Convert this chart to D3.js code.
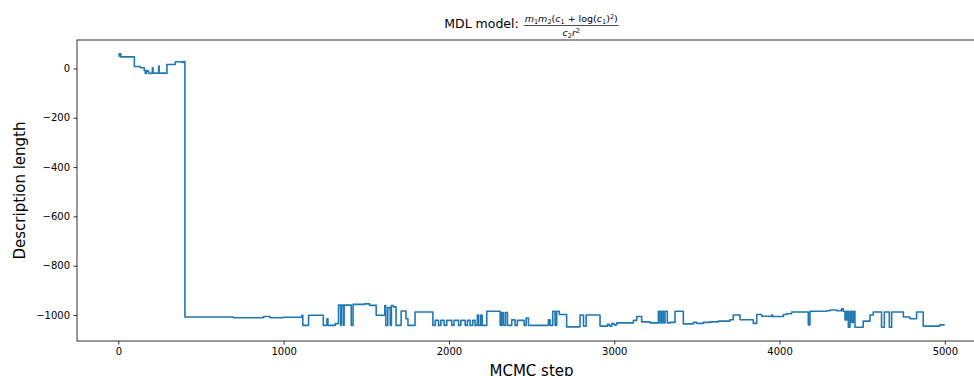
<!DOCTYPE html>
<html>
<head>
<meta charset="utf-8">
<script src="https://cdn.jsdelivr.net/npm/d3@7"></script>
<style>
  html, body { margin: 0; padding: 0; background: #fff; }
  svg { display: block; font-family: "DejaVu Sans", sans-serif; }
</style>
</head>
<body>
<svg id="chart" width="974" height="376"></svg>
<script>
// MCMC trace of the description length: change points of a step series.
const steps = [
  0, 5, 15, 97, 133, 157, 163, 170, 178, 185, 200, 206, 210, 244, 247, 294, 345, 385, 392, 403,
  697, 878, 918, 996, 1110, 1116, 1151, 1240, 1262, 1268, 1312, 1332, 1345, 1350, 1362, 1366,
  1409, 1420, 1490, 1520, 1560, 1612, 1618, 1630, 1645, 1652, 1664, 1680, 1711, 1740, 1752, 1795,
  1903, 1917, 1937, 1951, 1971, 1987, 2017, 2031, 2058, 2072, 2098, 2112, 2128, 2144, 2158, 2172,
  2180, 2193, 2201, 2229, 2310, 2320, 2330, 2342, 2354, 2380, 2400, 2414, 2455, 2467, 2481, 2602,
  2612, 2628, 2642, 2652, 2668, 2712,
  2793, 2814, 2830, 2914, 2959, 2971, 2985, 2999, 3015, 3116, 3136, 3166, 3217, 3267, 3277, 3287,
  3297, 3307, 3321, 3337, 3368, 3418, 3479, 3499, 3539, 3579, 3630,
  3700, 3720, 3761, 3841, 3862, 3892, 3942, 3952, 3958, 4023, 4043, 4073, 4174, 4184, 4285, 4305,
  4345, 4375, 4385, 4396, 4406, 4416, 4426, 4436, 4446, 4456, 4506, 4547, 4567, 4617, 4634, 4664,
  4678, 4749, 4789, 4829, 4869, 4970, 4999
];
const lengths = [
  50, 60, 47, 8, 3, -8, -20, -8, -12, -20, -19, 3, -19, 10, -19, 16, 27, 24, 28, -1008,
  -1011, -1006, -1011, -1009, -1001, -1042, -1001, -1042, -1015, -1042, -1035, -960, -1042, -960, -1042, -960,
  -1042, -957, -955, -961, -1001, -962, -1042, -970, -1042, -962, -967, -1042, -984, -1015, -1042, -988,
  -1042, -1022, -1042, -1022, -1042, -1022, -1042, -1022, -1042, -1022, -1042, -1022, -1042, -1022, -1042, -1000,
  -1042, -1000, -1042, -985, -1042, -990, -1042, -990, -1042, -1020, -1042, -1022, -1042, -1012, -1042, -1020,
  -1042, -985, -1042, -985, -998, -1048,
  -1000, -1045, -1000, -1045, -1038, -1045, -1035, -1040, -1032, -1022, -1006, -1028, -1032, -985, -1032, -985,
  -1032, -985, -1032, -1030, -985, -1036, -1030, -1034, -1030, -1028, -1025,
  -1019, -1000, -1019, -1034, -998, -1005, -1006, -1000, -1006, -998, -995, -988, -1040, -985, -983, -980,
  -983, -975, -985, -1020, -985, -1050, -985, -1030, -985, -1050, -1025, -1000, -988, -1050, -988, -1050,
  -988, -1008, -1015, -988, -1045, -1040, -1040
];
const xTicks = [0, 1000, 2000, 3000, 4000, 5000];
const yTicks = [0, -200, -400, -600, -800, -1000];

const data = steps.map((s, i) => ({ step: s, value: lengths[i] }));

const svg = d3.select("#chart");
const plot = { left: 77, top: 40, right: 986, bottom: 341 };

// 5% padding around the data range on both axes
const pad = (lo, hi) => { const m = (hi - lo) * 0.05; return [lo - m, hi + m]; };
const xDom = pad(d3.min(steps), d3.max(steps));
const yDom = pad(d3.min(lengths), d3.max(lengths));

const x = d3.scaleLinear().domain(xDom).range([plot.left, plot.right]);
const y = d3.scaleLinear().domain(yDom).range([plot.bottom, plot.top]);

const fmt = d => (d < 0 ? "\u2212" + Math.abs(d) : String(d));

// trace
svg.append("clipPath").attr("id", "plotClip")
  .append("rect")
  .attr("x", plot.left).attr("y", plot.top)
  .attr("width", plot.right - plot.left).attr("height", plot.bottom - plot.top);

const line = d3.line()
  .x(d => x(d.step))
  .y(d => y(d.value))
  .curve(d3.curveStepAfter);

svg.append("path")
  .datum(data)
  .attr("clip-path", "url(#plotClip)")
  .attr("fill", "none")
  .attr("stroke", "#1f77b4")
  .attr("stroke-width", 1.6)
  .attr("stroke-linejoin", "round")
  .attr("d", line);

// axes
const xAxis = d3.axisBottom(x).tickValues(xTicks).tickFormat(fmt).tickSize(3.5).tickPadding(3.5).tickSizeOuter(0);
const yAxis = d3.axisLeft(y).tickValues(yTicks).tickFormat(fmt).tickSize(3.5).tickPadding(3.5).tickSizeOuter(0);

const gx = svg.append("g").attr("transform", `translate(0,${plot.bottom})`).call(xAxis);
const gy = svg.append("g").attr("transform", `translate(${plot.left},0)`).call(yAxis);
[gx, gy].forEach(g => {
  g.select(".domain").remove();
  g.selectAll(".tick line").attr("stroke", "#000").attr("stroke-width", 0.8);
  g.selectAll(".tick text").attr("fill", "#000")
    .style("font-family", "DejaVu Sans, sans-serif").style("font-size", "10px");
});

// frame
svg.append("rect")
  .attr("x", plot.left).attr("y", plot.top)
  .attr("width", plot.right - plot.left).attr("height", plot.bottom - plot.top)
  .attr("fill", "none").attr("stroke", "#000").attr("stroke-width", 0.8);

// axis labels
svg.append("text")
  .attr("x", (plot.left + plot.right) / 2).attr("y", 376)
  .attr("text-anchor", "middle")
  .style("font-size", "15px").attr("fill", "#000")
  .text("MCMC step");

svg.append("text")
  .attr("transform", `translate(25,${(plot.top + plot.bottom) / 2}) rotate(-90)`)
  .attr("text-anchor", "middle")
  .style("font-size", "15px").attr("fill", "#000")
  .text("Description length");

// title: "MDL model:" followed by a fraction
const title = svg.append("g");
const head = title.append("text")
  .attr("x", 0).attr("y", 28)
  .style("font-size", "12.5px").attr("fill", "#000")
  .text("MDL model:");
const headW = head.node().getComputedTextLength();

const fs = 9.5, sub = 6.5;
const num = title.append("text").attr("y", 22).style("font-size", fs + "px").attr("fill", "#000");
const addPart = (el, txt, opts = {}) => {
  const t = el.append("tspan").text(txt);
  if (opts.italic) t.style("font-style", "italic");
  if (opts.size) t.style("font-size", opts.size + "px");
  if (opts.dy !== undefined) t.attr("dy", opts.dy);
  return t;
};
addPart(num, "m", { italic: true });
addPart(num, "1", { size: sub, dy: 1.5 });
addPart(num, "m", { italic: true, dy: -1.5 });
addPart(num, "2", { size: sub, dy: 1.5 });
addPart(num, "(", { dy: -1.5 });
addPart(num, "c", { italic: true });
addPart(num, "1", { size: sub, dy: 1.5 });
addPart(num, " + log(", { dy: -1.5 });
addPart(num, "c", { italic: true });
addPart(num, "1", { size: sub, dy: 1.5 });
addPart(num, ")", { dy: -1.5 });
addPart(num, "2", { size: sub, dy: -3 });
addPart(num, ")", { dy: 3 });

const den = title.append("text").attr("y", 36).style("font-size", fs + "px").attr("fill", "#000");
addPart(den, "c", { italic: true });
addPart(den, "2", { size: sub, dy: 1.5 });
addPart(den, "r", { italic: true, dy: -1.5 });
addPart(den, "2", { size: sub, dy: -3 });

const numW = num.node().getComputedTextLength();
const denW = den.node().getComputedTextLength();
const fracW = Math.max(numW, denW) + 2;
const fracX = headW + 5;
num.attr("x", fracX + (fracW - numW) / 2);
den.attr("x", fracX + (fracW - denW) / 2);
title.append("line")
  .attr("x1", fracX).attr("x2", fracX + fracW)
  .attr("y1", 25.5).attr("y2", 25.5)
  .attr("stroke", "#000").attr("stroke-width", 0.7);

const totalW = fracX + fracW;
title.attr("transform", `translate(${(plot.left + plot.right) / 2 - totalW / 2},0)`);
</script>
</body>
</html>
